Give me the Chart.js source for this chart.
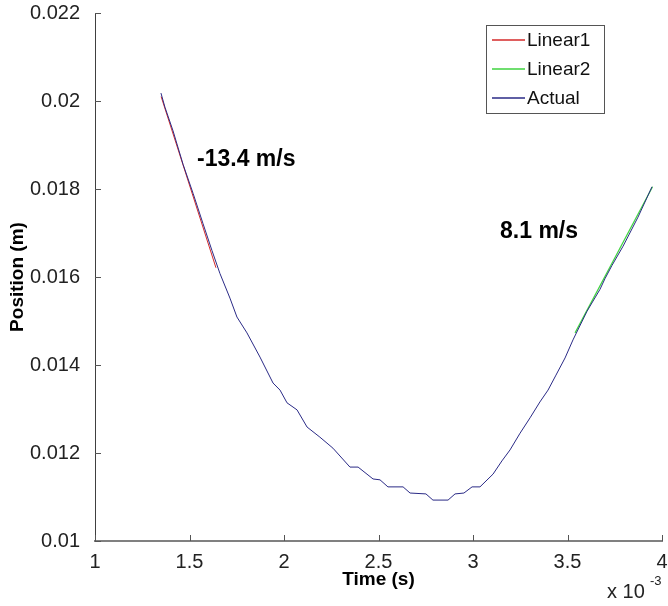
<!DOCTYPE html>
<html>
<head>
<meta charset="utf-8">
<script src="https://cdn.jsdelivr.net/npm/chart.js@4.4.1/dist/chart.umd.min.js"></script>
<style>
  html, body { margin: 0; padding: 0; background: #fff; }
  #wrap { width: 668px; height: 606px; position: relative; }
</style>
</head>
<body>
<div id="wrap"><canvas id="chart"></canvas></div>
<script>
// Position vs time, x in units of 1e-3 s

// Actual measured trace
const actualTime = [1.349, 1.370, 1.413, 1.466, 1.519, 1.571, 1.619, 1.661, 1.714, 1.751,
  1.804, 1.873, 1.942, 1.979, 2.016, 2.069, 2.122, 2.190, 2.259, 2.349,
  2.392, 2.471, 2.508, 2.550, 2.630, 2.667, 2.751, 2.788, 2.868, 2.905,
  2.952, 2.995, 3.037, 3.106, 3.153, 3.196, 3.249, 3.302, 3.354, 3.397,
  3.439, 3.487, 3.529, 3.603, 3.672, 3.698, 3.735, 3.794, 3.873, 3.947];
const actualPos = [0.02018, 0.01986, 0.01932, 0.01856, 0.01790, 0.01722, 0.01660, 0.01608, 0.01552, 0.01509,
  0.01473, 0.01418, 0.01359, 0.01343, 0.01314, 0.01298, 0.01259, 0.01236, 0.01211, 0.01168,
  0.01168, 0.01141, 0.01139, 0.01123, 0.01123, 0.01109, 0.01107, 0.01093, 0.01093, 0.01107,
  0.01109, 0.01123, 0.01123, 0.01152, 0.01182, 0.01207, 0.01245, 0.01280, 0.01316, 0.01343,
  0.01377, 0.01416, 0.01457, 0.01522, 0.01572, 0.01596, 0.01626, 0.01670, 0.01736, 0.01805];

// Linear fits
const linear1Time = [1.35, 1.64];
const linear1Pos = [0.02010, 0.01621];
const linear2Time = [3.54, 3.95];
const linear2Pos = [0.01473, 0.01805];

const seriesNames = ['Linear1', 'Linear2', 'Actual'];
const seriesColors = ['#d42a2a', '#3fd33f', '#2a2a86'];

const xTicks = [1, 1.5, 2, 2.5, 3, 3.5, 4];
const yTicks = [0.01, 0.012, 0.014, 0.016, 0.018, 0.02, 0.022];

const slopeLabels = ['-13.4 m/s', '8.1 m/s'];

function toPoints(xs, ys) {
  return xs.map((x, i) => ({ x: x, y: ys[i] }));
}

// draws inward ticks, legend box, slope notes and the x10^-3 multiplier
const extrasPlugin = {
  id: 'extras',
  afterDraw(chart) {
    const ctx = chart.ctx;
    const xs = chart.scales.x;
    const ys = chart.scales.y;
    const area = chart.chartArea;
    ctx.save();

    // inward ticks
    ctx.lineWidth = 1;
    ctx.strokeStyle = '#555';
    xTicks.forEach(v => {
      const px = Math.round(xs.getPixelForValue(v)) + 0.5;
      ctx.beginPath();
      ctx.moveTo(px, area.bottom);
      ctx.lineTo(px, area.bottom - 6);
      ctx.stroke();
    });
    yTicks.forEach(v => {
      const py = Math.round(ys.getPixelForValue(v)) + 0.5;
      ctx.beginPath();
      ctx.moveTo(area.left, py);
      ctx.lineTo(area.left + 6, py);
      ctx.stroke();
    });

    // slope notes
    ctx.fillStyle = '#000';
    ctx.font = 'bold 23px "Liberation Sans", Arial, sans-serif';
    ctx.textBaseline = 'middle';
    ctx.textAlign = 'left';
    ctx.fillText(slopeLabels[0], xs.getPixelForValue(1.54), ys.getPixelForValue(0.01866));
    ctx.fillText(slopeLabels[1], xs.getPixelForValue(3.143), ys.getPixelForValue(0.01702));

    // legend
    const bx = 486, by = 25, bw = 118, bh = 88;
    ctx.fillStyle = '#fff';
    ctx.fillRect(bx, by, bw, bh);
    ctx.strokeStyle = '#555';
    ctx.strokeRect(bx + 0.5, by + 0.5, bw, bh);
    ctx.font = '19px "Liberation Sans", Arial, sans-serif';
    seriesNames.forEach((name, i) => {
      const ry = by + 15 + i * 29;
      ctx.strokeStyle = seriesColors[i];
      ctx.lineWidth = 1.5;
      ctx.beginPath();
      ctx.moveTo(bx + 6, ry);
      ctx.lineTo(bx + 39, ry);
      ctx.stroke();
      ctx.fillStyle = '#111';
      ctx.fillText(name, bx + 41, ry + 1);
    });

    // x 10^-3 multiplier
    ctx.fillStyle = '#222';
    ctx.font = '20px "Liberation Sans", Arial, sans-serif';
    ctx.textBaseline = 'alphabetic';
    ctx.fillText('x 10', 607, 598);
    ctx.font = '13px "Liberation Sans", Arial, sans-serif';
    ctx.fillText('-3', 650, 585);

    ctx.restore();
  }
};

const ctx = document.getElementById('chart').getContext('2d');
new Chart(ctx, {
  type: 'line',
  data: {
    datasets: [
      {
        label: seriesNames[2],
        data: toPoints(actualTime, actualPos),
        borderColor: seriesColors[2],
        borderWidth: 1,
        pointRadius: 0,
        tension: 0,
        order: 0
      },
      {
        label: seriesNames[0],
        data: toPoints(linear1Time, linear1Pos),
        borderColor: seriesColors[0],
        borderWidth: 1,
        pointRadius: 0,
        order: 1
      },
      {
        label: seriesNames[1],
        data: toPoints(linear2Time, linear2Pos),
        borderColor: seriesColors[1],
        borderWidth: 1.2,
        pointRadius: 0,
        order: 1
      }
    ]
  },
  options: {
    responsive: true,
    maintainAspectRatio: false,
    devicePixelRatio: 1,
    animation: false,
    layout: { padding: { top: 13, right: 6, left: 0, bottom: 0 } },
    plugins: {
      legend: { display: false },
      tooltip: { enabled: false }
    },
    scales: {
      x: {
        type: 'linear',
        min: 1,
        max: 4,
        afterBuildTicks: axis => { axis.ticks = xTicks.map(v => ({ value: v })); },
        afterFit: axis => { axis.height = 65; axis.paddingLeft = 0; axis.paddingRight = 0; },
        grid: { display: false },
        border: { display: true, color: '#808080', width: 2 },
        ticks: {
          color: '#222',
          padding: 1,
          maxRotation: 0,
          font: { family: '"Liberation Sans", Arial, sans-serif', size: 20 },
          callback: v => String(v)
        },
        title: {
          display: true,
          text: 'Time (s)',
          color: '#000',
          padding: { top: 0, bottom: 15 },
          font: { family: '"Liberation Sans", Arial, sans-serif', size: 19, weight: 'bold' }
        }
      },
      y: {
        type: 'linear',
        min: 0.01,
        max: 0.022,
        afterBuildTicks: axis => { axis.ticks = yTicks.map(v => ({ value: v })); },
        afterFit: axis => { axis.width = 95; axis.paddingTop = 0; axis.paddingBottom = 0; },
        grid: { display: false },
        border: { display: true, color: '#404040', width: 1 },
        ticks: {
          color: '#222',
          padding: 7,
          font: { family: '"Liberation Sans", Arial, sans-serif', size: 20 },
          callback: v => String(parseFloat(v.toFixed(3)))
        },
        title: {
          display: true,
          text: 'Position (m)',
          color: '#000',
          padding: { top: 6, bottom: 0 },
          font: { family: '"Liberation Sans", Arial, sans-serif', size: 19, weight: 'bold' }
        }
      }
    }
  },
  plugins: [extrasPlugin]
});
</script>
</body>
</html>
